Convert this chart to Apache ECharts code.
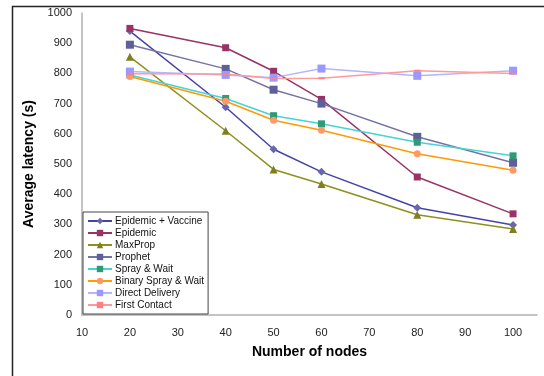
<!DOCTYPE html>
<html><head><meta charset="utf-8">
<script src="https://cdn.jsdelivr.net/npm/echarts@6/dist/echarts.min.js"></script>
<style>html,body{margin:0;padding:0;background:#fff}#c{width:544px;height:376px}</style>
</head><body><div id="c"></div>
<script>
const nodes = [20, 40, 50, 60, 80, 100];
const epidemicVaccine = [940, 688, 549, 474, 355, 298];
const epidemic = [949, 885, 807, 714, 457, 335];
const maxProp = [855, 610, 482, 434, 332, 285];
const prophet = [895, 815, 746, 700, 590, 504];
const sprayWait = [795, 717, 660, 633, 572, 527];
const binarySprayWait = [790, 708, 645, 612, 534, 479];
const directDelivery = [806, 795, 786, 816, 792, 809];
const firstContact = [799, 798, 783, 784, 809, 800];
const xTicks = [10, 20, 30, 40, 50, 60, 70, 80, 90, 100];
const yTicks = [0, 100, 200, 300, 400, 500, 600, 700, 800, 900, 1000];

const FONT = 'Liberation Sans';
function mk(name, data, lineColor, markColor, symbol, size) {
  return {
    name, type: 'line', data: nodes.map((x, i) => [x, data[i]]),
    symbol, symbolSize: size, showSymbol: true,
    lineStyle: { color: lineColor, width: 1.5 },
    itemStyle: { color: markColor, borderWidth: 0 },
    emphasis: { disabled: true }, animation: false
  };
}
const series = [
  mk('Epidemic + Vaccine', epidemicVaccine, '#4444a8', '#6868a8', 'diamond', 8),
  mk('Epidemic', epidemic, '#993366', '#993366', 'rect', 7),
  mk('MaxProp', maxProp, '#8f8f1f', '#7f7f20', 'triangle', 8),
  mk('Prophet', prophet, '#7474a4', '#5f5f99', 'rect', 8),
  mk('Spray & Wait', sprayWait, '#44d4d4', '#2e9a78', 'rect', 7),
  mk('Binary Spray & Wait', binarySprayWait, '#ff9a00', '#ff9966', 'circle', 7),
  mk('Direct Delivery', directDelivery, '#b4b4ff', '#9999ff', 'rect', 8),
  mk('First Contact', firstContact, '#ff9a9a', '#ff8080', 'rect', [6, 2])
];
series[1].z = 3;

const chart = echarts.init(document.getElementById('c'), null, { renderer: 'canvas' });
chart.setOption({
  animation: false,
  backgroundColor: '#fff',
  textStyle: { fontFamily: FONT },
  graphic: [{
    type: 'rect', left: 10, top: 4, z: 0, silent: true,
    shape: { width: 545, height: 380 },
    style: { fill: 'none', stroke: '#222', lineWidth: 1.5 }
  }],
  grid: { left: 82, top: 13, right: 7, bottom: 61 },
  xAxis: {
    type: 'value', min: 10, max: 105, interval: 10,
    name: 'Number of nodes', nameLocation: 'middle', nameGap: 30,
    nameTextStyle: { fontFamily: FONT, fontWeight: 'bold', fontSize: 14, color: '#000' },
    axisLine: { show: true, lineStyle: { color: '#b0b0b0', width: 1.5 } },
    axisTick: { show: false },
    splitLine: { show: false },
    axisLabel: { color: '#222', fontSize: 11, margin: 12, fontFamily: FONT,
      formatter: v => xTicks.includes(v) ? String(v) : '' }
  },
  yAxis: {
    type: 'value', min: 0, max: 1000, interval: 100,
    name: 'Average latency (s)', nameLocation: 'middle', nameGap: 41,
    nameTextStyle: { fontFamily: FONT, fontWeight: 'bold', fontSize: 14, color: '#000' },
    axisLine: { show: true, lineStyle: { color: '#b0b0b0', width: 1.5 } },
    axisTick: { show: false },
    splitLine: { show: false },
    axisLabel: { color: '#222', fontSize: 11, margin: 10, fontFamily: FONT,
      formatter: v => yTicks.includes(v) ? String(v) : '' }
  },
  legend: {
    orient: 'vertical', left: 83, top: 212,
    itemWidth: 24, itemHeight: 8, itemGap: 0,
    padding: [3, 4, 3, 4],
    backgroundColor: '#fff', borderColor: '#444', borderWidth: 1,
    textStyle: { fontFamily: FONT, fontSize: 10, lineHeight: 12, color: '#111', padding: [0, 0, 0, -2] },
    data: series.map(s => s.name)
  },
  series
});
</script></body></html>
